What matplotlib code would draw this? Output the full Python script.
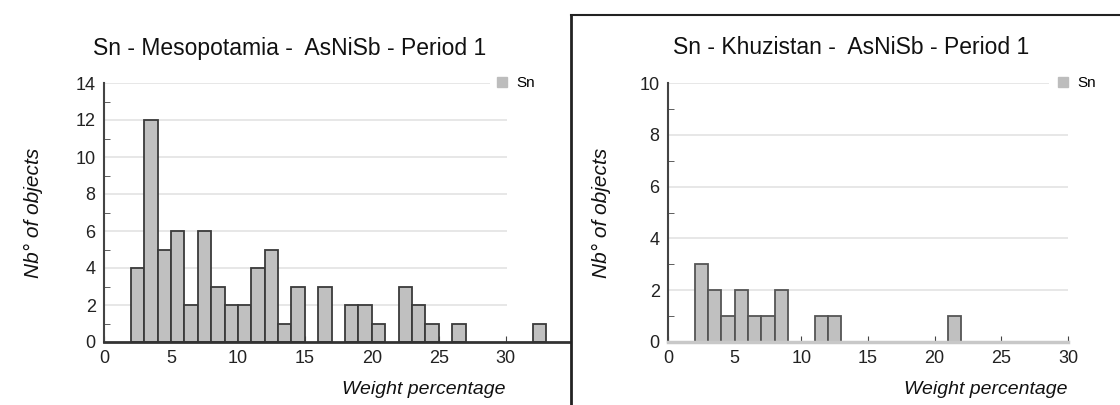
import matplotlib
matplotlib.use("Agg")
import matplotlib.pyplot as plt
from matplotlib.lines import Line2D
from matplotlib.ticker import MultipleLocator

plt.rcParams["font.family"] = ["Liberation Sans", "DejaVu Sans"]

# Histogram data: left edge of each 1 %-wide bin and number of objects
meso_bins = list(range(2, 33))
meso_counts = [4, 12, 5, 6, 2, 6, 3, 2, 2, 4, 5, 1, 3, 0, 3, 0,
               2, 2, 1, 0, 3, 2, 1, 0, 1, 0, 0, 0, 0, 0, 1]
khuz_bins = list(range(2, 22))
khuz_counts = [3, 2, 1, 2, 1, 1, 2, 0, 0, 1, 1, 0, 0, 0, 0, 0, 0, 0, 0, 1]

titles = ["Sn - Mesopotamia -  AsNiSb - Period 1",
          "Sn - Khuzistan -  AsNiSb - Period 1"]
ylabel = "Nb\u00b0 of objects"
xlabel = "Weight percentage"
series = "Sn"

W, H = 1120, 405
fig = plt.figure(figsize=(W / 100, H / 100), dpi=100)

# axes placed in pixel units
ax1 = fig.add_axes([104 / W, 1 - 342 / H, 466 / W, 259 / H])
ax2 = fig.add_axes([668 / W, 1 - 342 / H, 400 / W, 259 / H])

bar_face = "#c0c0c0"


def draw(ax, bins, counts, xmax, ymax, grid_end, top_end, edge,
         xspine_col, xspine_lw, leg_x):
    xs = [b for b, c in zip(bins, counts) if c > 0]
    hs = [c for c in counts if c > 0]
    ax.bar(xs, hs, width=1.0, align="edge", color=bar_face,
           edgecolor=edge, linewidth=1.3, zorder=3)
    ax.set_xlim(0, xmax)
    ax.set_ylim(0, ymax)
    # light horizontal gridlines that stop before the legend
    for yv in range(2, ymax + 1, 2):
        end = top_end if yv == ymax else grid_end
        ax.hlines(yv, 0, end, color="#e3e3e3", lw=1.2, zorder=1)
    for s in ["top", "right"]:
        ax.spines[s].set_visible(False)
    ax.spines["left"].set_color("#444444")
    ax.spines["left"].set_linewidth(1.5)
    ax.spines["bottom"].set_color(xspine_col)
    ax.spines["bottom"].set_linewidth(xspine_lw)
    ax.spines["bottom"].set_zorder(4)
    ax.yaxis.set_major_locator(MultipleLocator(2))
    ax.yaxis.set_minor_locator(MultipleLocator(1))
    ax.set_xticks(range(0, 31, 5))
    ax.tick_params(axis="both", which="both", direction="in", color="#444444",
                   labelsize=13, labelcolor="#222222")
    ax.tick_params(axis="x", length=4, pad=6)
    ax.tick_params(axis="y", which="major", length=0, pad=6)
    ax.tick_params(axis="y", which="minor", length=4)
    ax.set_ylabel(ylabel, fontsize=15, style="italic", color="#111111")
    ax.set_xlabel(xlabel, fontsize=14, style="italic", color="#111111")
    ax.xaxis.label.set_ha("right")
    ax.xaxis.set_label_coords(30 / xmax, -0.15)
    handle = Line2D([], [], marker="s", ls="none", color="#bdbdbd", markersize=7)
    ax.legend([handle], [series], loc="center left", frameon=False,
              fontsize=11, handletextpad=0.4, borderpad=0, handlelength=1.0,
              bbox_to_anchor=(leg_x, 1.0))


draw(ax1, meso_bins, meso_counts, 34.8, 14, 30.1, 28.8, "#3a3a3a",
     "#333333", 2.0, 0.822)
draw(ax2, khuz_bins, khuz_counts, 30, 10, 30, 28.6, "#555555",
     "#c8c8c8", 2.5, 0.95)
ax1.yaxis.set_label_coords(-0.13, 0.5)
ax2.yaxis.set_label_coords(-0.1425, 0.5)

fig.text(290 / W, 1 - 48 / H, titles[0], ha="center", va="center",
         fontsize=16.5, color="#111111")
fig.text(851 / W, 1 - 48 / H, titles[1], ha="center", va="center",
         fontsize=16.5, color="#111111")

# panel divider lines
fig.add_artist(Line2D([571 / W, 571 / W], [0, 1 - 15 / H], color="#222222", lw=2))
fig.add_artist(Line2D([571 / W, 1], [1 - 15 / H, 1 - 15 / H], color="#222222", lw=1.5))

fig.savefig("out.png", dpi=100)
